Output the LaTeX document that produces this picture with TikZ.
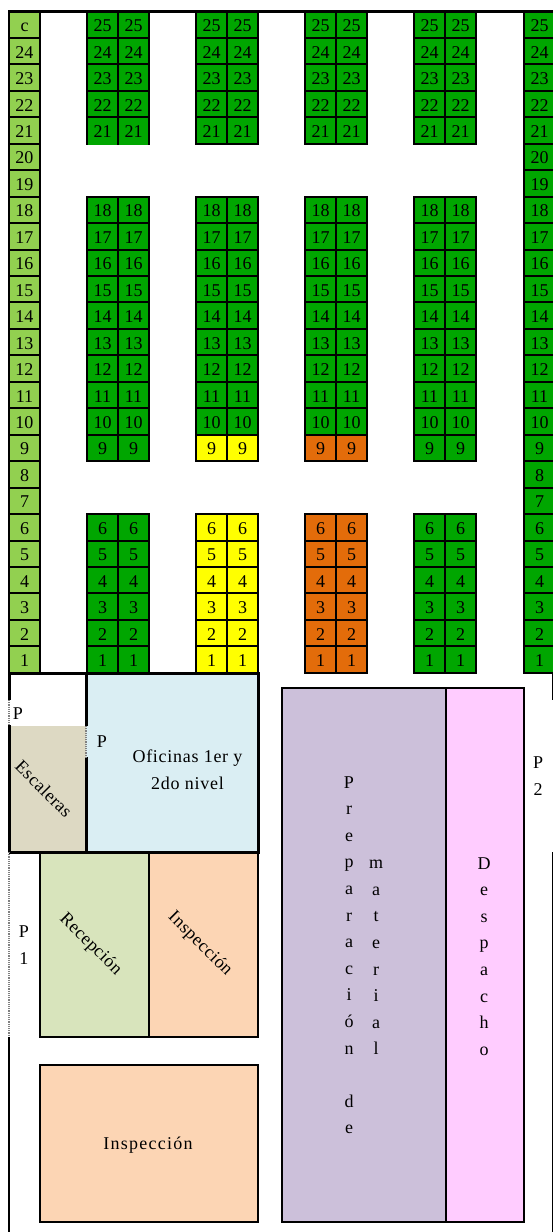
\documentclass[tikz,border=0pt]{standalone}
\usepackage{fontspec}
\setmainfont{Liberation Serif}
\usepackage{tikz}
\usetikzlibrary{positioning}
\definecolor{rackgreen}{HTML}{00A600}
\definecolor{racklight}{HTML}{92D050}
\definecolor{rackyellow}{HTML}{FFFF00}
\definecolor{rackorange}{HTML}{E36C0A}
\definecolor{officeblue}{HTML}{DAEEF3}
\definecolor{stairtan}{HTML}{DDD9C3}
\definecolor{receptgreen}{HTML}{D8E4BC}
\definecolor{inspectpeach}{HTML}{FCD5B4}
\definecolor{prepviolet}{HTML}{CCC0DA}
\definecolor{dispatchpink}{HTML}{FFCCFF}
\tikzstyle{cell} = [draw, line width=2pt, inner sep=0pt, outer sep=0pt, minimum width=31pt, minimum height=26.45pt,
    text height=14pt, text depth=0pt]
\tikzstyle{room} = [draw, line width=2pt, inner sep=0pt]
\tikzstyle{wall} = [line width=3pt]
\tikzstyle{door} = [line width=1.2pt, gray, densely dotted]
\tikzstyle{tag} = [inner sep=0pt]
\tikzstyle{spaced} = [font=\fontsize{18}{26.6}\selectfont\addfontfeature{LetterSpace=3}]
\tikzstyle{column} = [inner sep=0pt, align=center, anchor=north, font=\fontsize{18}{26.6}\selectfont]

\begin{document}
\begin{tikzpicture}[x=1pt, y=-1pt, font=\fontsize{18}{21}\selectfont]
    \path[use as bounding box, clip] (0,0) rectangle (553,1232);
    % We start with the two single columns
    \foreach \r in {1,...,24} {
        \pgfmathsetmacro{\ry}{11.5+(25-\r+0.5)*26.45}
        \node [cell, fill=racklight] (left-\r) at (24.5,\ry) {\r};
    }
    \node [cell, fill=racklight] (left-25) at (24.5,24.7) {c};
    \foreach \r in {1,...,25} {
        \pgfmathsetmacro{\ry}{11.5+(25-\r+0.5)*26.45}
        \node [cell, fill=rackgreen] (right-\r) at (539.5,\ry) {\r};
    }
    % The double racks, the lower rows change colour
    \foreach \cx/\rk/\low in {102.5/a/rackgreen, 211.5/b/rackyellow, 320.5/c/rackorange, 429.5/d/rackgreen} {
        \foreach \r in {1,...,6,9} {
            \pgfmathsetmacro{\ry}{11.5+(25-\r+0.5)*26.45}
            \node [cell, fill=\low] (\rk-\r) at (\cx,\ry) {\r};
            \node [cell, fill=\low, right=0pt of \rk-\r] (\rk r-\r) {\r};
        }
        \foreach \r in {10,...,18,21,22,23,24,25} {
            \pgfmathsetmacro{\ry}{11.5+(25-\r+0.5)*26.45}
            \node [cell, fill=rackgreen] (\rk-\r) at (\cx,\ry) {\r};
            \node [cell, fill=rackgreen, right=0pt of \rk-\r] (\rk r-\r) {\r};
        }
    }
    % The first rack has no line under its row 21
    \draw [rackgreen, line width=2pt] ([xshift=1pt]a-21.south west) -- ([xshift=-1pt]a-21.south east)
        ([xshift=1pt]ar-21.south west) -- ([xshift=-1pt]ar-21.south east);
    % Rooms below the racks
    \node [room, draw=none, fill=officeblue, minimum width=172pt, minimum height=179pt] (office) at (172,762.5) {};
    \node [room, draw=none, fill=stairtan, minimum width=76pt, minimum height=126pt] (stairs) at (47.5,789) {};
    \node [room, fill=receptgreen, minimum width=109pt, minimum height=185pt] (recept) at (94.5,944.5) {};
    \node [room, fill=inspectpeach, minimum width=109pt, minimum height=185pt] (inspect) at (203.5,944.5) {};
    \node [room, fill=inspectpeach, minimum width=218pt, minimum height=157pt] (inspectlow) at (149,1143.5) {};
    \node [room, fill=prepviolet, minimum width=164pt, minimum height=534pt] (prep) at (364,955) {};
    \node [room, fill=dispatchpink, minimum width=78pt, minimum height=534pt] (dispatch) at (485,955) {};
    % Walls and doors
    \draw [wall] (9,11) -- (553,11);
    \draw [wall] (9,673.5) -- (258,673.5) -- (258,852) -- (9,852);
    \draw [wall] (86,673.5) -- (86,726) (86,757) -- (86,852);
    \draw [door] (86,726) -- (86,757);
    \draw [wall] (9,672) -- (9,700) (9,725) -- (9,852);
    \draw [door] (9,700) -- (9,725);
    \draw [door] (9,852) -- (9,1037);
    \draw [wall, line width=2pt] (9,1037) -- (9,1232);
    \draw [line width=1pt] (552.5,673) -- (552.5,700) (552.5,852) -- (552.5,1232);
    % Labels of the rooms
    \node [tag] (doorstairs) at (18,714) {P};
    \node [tag] (dooroffice) at (102,742) {P};
    \node [tag, rotate=-45, spaced] (stairslabel) at (44,789) {Escaleras};
    \node [tag, align=center, font=\fontsize{18}{26.6}\selectfont\addfontfeature{LetterSpace=4}] (officelabel) at (187.5,770) {Oficinas 1er y\\2do nivel};
    \node [tag, rotate=-45, spaced] (receptlabel) at (90.5,944.5) {Recepción};
    \node [tag, rotate=-45, spaced] (inspectlabel) at (200,944) {Inspección};
    \node [tag, font=\fontsize{18}{21}\selectfont\addfontfeature{LetterSpace=7}] (inspectlowlabel) at (148,1145) {Inspección};
    \node [column] (doorone) at (24,926) {P\\1};
    \node [column] (doortwo) at (538,757) {P\\2};
    \node [column] (preplabel) at (349,776) {P\\r\\e\\p\\a\\r\\a\\c\\i\\ó\\n\\[26.6pt]d\\e};
    \node [column] (materiallabel) at (376,860) {m\\a\\t\\e\\r\\i\\a\\l};
    \node [column] (dispatchlabel) at (484,857) {D\\e\\s\\p\\a\\c\\h\\o};
\end{tikzpicture}
\end{document}
